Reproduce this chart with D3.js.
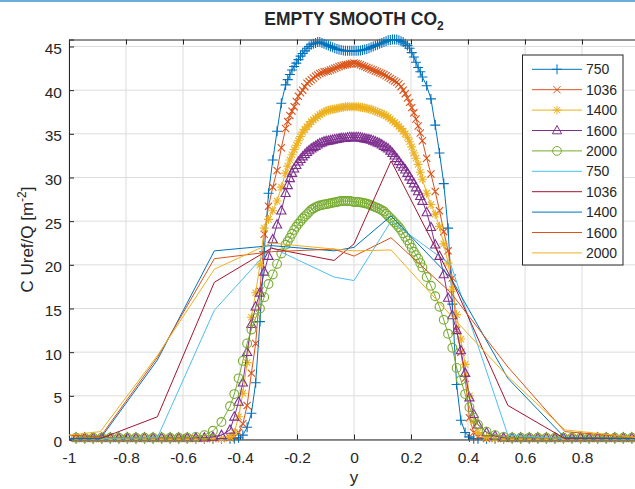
<!DOCTYPE html>
<html>
<head>
<meta charset="utf-8">
<script src="https://cdn.jsdelivr.net/npm/d3@7"></script>
<style>
  body { margin: 0; background: #fff; }
  text { font-family: "Liberation Sans", Arial, Helvetica, sans-serif; fill: #262626; }
</style>
</head>
<body>
<div id="chart"></div>
<script>
// y positions of the fine (marker) profiles: coarse at the walls, dense in the core
const xFine = [
  -0.975, -0.945, -0.915, -0.885, -0.855, -0.825, -0.795, -0.765, -0.735, -0.705,
  -0.675, -0.645, -0.615, -0.585, -0.555, -0.525, -0.495, -0.465, -0.435,
  -0.42, -0.405, -0.39, -0.375, -0.36, -0.345, -0.33, -0.315, -0.3, -0.285, -0.27, -0.255,
  -0.24, -0.2325, -0.225, -0.2175, -0.21, -0.2025, -0.195, -0.1875, -0.18, -0.1725,
  -0.165, -0.1575, -0.15, -0.1425, -0.135, -0.1275, -0.12, -0.1125, -0.105, -0.0975,
  -0.09, -0.0825, -0.075, -0.0675, -0.06, -0.0525, -0.045, -0.0375, -0.03, -0.0225,
  -0.015, -0.0075,
  0,
  0.0075, 0.015, 0.0225, 0.03, 0.0375, 0.045, 0.0525, 0.06, 0.0675, 0.075,
  0.0825, 0.09, 0.0975, 0.105, 0.1125, 0.12, 0.1275, 0.135, 0.1425, 0.15,
  0.1575, 0.165, 0.1725, 0.18, 0.1875, 0.195, 0.2025, 0.21, 0.2175, 0.225,
  0.2325, 0.24,
  0.255, 0.27, 0.285, 0.3, 0.315, 0.33, 0.345, 0.36, 0.375, 0.39, 0.405, 0.42,
  0.435, 0.465, 0.495, 0.525, 0.555, 0.585, 0.615, 0.645, 0.675, 0.705,
  0.735, 0.765, 0.795, 0.825, 0.855, 0.885, 0.915, 0.945, 0.975
];

const fine750 = [
  0.1, 0.1, 0.1, 0.1, 0.1, 0.1, 0.1, 0.1, 0.1, 0.1, 0.1, 0.1, 0.1, 0.1, 0.1, 0.1, 0.1, 0.1, 0.1,
  0.1, 0.2, 0.5, 1.4, 3.0, 6.5, 13.5, 21.5, 28.2, 32.0, 35.3, 38.5,
  40.6, 41.2, 41.8, 42.3, 42.7, 43.1, 43.5, 43.9, 44.2, 44.5, 44.8, 45.0, 45.2, 45.3, 45.4, 45.5,
  45.5, 45.4, 45.3, 45.2, 45.1, 45.0, 44.9, 44.8, 44.7, 44.65, 44.6, 44.55, 44.5, 44.5, 44.5, 44.5,
  44.5,
  44.5, 44.5, 44.55, 44.6, 44.65, 44.7, 44.8, 44.9, 45.0, 45.1, 45.2, 45.3, 45.4, 45.5, 45.6, 45.7,
  45.75, 45.8, 45.8, 45.8, 45.7, 45.6, 45.5, 45.3, 45.1, 44.8, 44.3, 43.8, 43.2, 42.6, 42.1, 41.5,
  40.5, 39.0, 36.0, 32.8, 29.3, 24.2, 15.5, 6.3, 2.2, 0.8, 0.3, 0.1,
  0.1, 0.1, 0.1, 0.1, 0.1, 0.1, 0.1, 0.1, 0.1, 0.1, 0.1, 0.1, 0.1, 0.1, 0.1, 0.1, 0.1, 0.1, 0.1
];
const fine1036 = [
  0.1, 0.1, 0.1, 0.1, 0.1, 0.1, 0.1, 0.1, 0.1, 0.1, 0.1, 0.1, 0.1, 0.1, 0.1, 0.1, 0.1, 0.1, 0.2,
  0.3, 0.8, 1.8, 3.9, 7.6, 11.0, 17.0, 23.5, 26.7, 28.9, 30.8, 33.4,
  35.6, 36.4, 37.1, 37.6, 38.1, 38.7, 39.3, 39.7, 40.0, 40.4, 40.8, 41.0, 41.2, 41.4, 41.6, 41.75,
  41.9, 42.0, 42.1, 42.15, 42.2, 42.3, 42.4, 42.5, 42.6, 42.7, 42.8, 42.85, 42.9, 42.95, 43.0, 43.05,
  43.1,
  43.05, 43.0, 42.9, 42.8, 42.7, 42.6, 42.5, 42.4, 42.3, 42.2, 42.1, 42.0, 41.9, 41.8, 41.65, 41.5,
  41.35, 41.2, 41.05, 40.9, 40.7, 40.4, 40.0, 39.6, 39.1, 38.6, 38.0, 37.4, 36.7, 35.9, 35.1, 34.2,
  32.2, 30.4, 28.4, 26.2, 23.8, 21.6, 18.5, 12.5, 10.0, 7.0, 2.5, 0.8,
  0.3, 0.1, 0.1, 0.1, 0.1, 0.1, 0.1, 0.1, 0.1, 0.1, 0.1, 0.1, 0.1, 0.1, 0.1, 0.1, 0.1, 0.1, 0.1
];
const fine1400 = [
  0.1, 0.1, 0.1, 0.1, 0.1, 0.1, 0.1, 0.1, 0.1, 0.1, 0.1, 0.1, 0.1, 0.1, 0.1, 0.1, 0.1, 0.1, 0.3,
  0.8, 2.6, 5.3, 8.8, 14.0, 16.8, 20.0, 24.2, 25.2, 26.2, 27.3, 28.9,
  30.5, 31.3, 32.0, 32.6, 33.2, 33.7, 34.2, 34.7, 35.2, 35.5, 35.8, 36.1, 36.4, 36.6, 36.8, 37.0,
  37.2, 37.35, 37.5, 37.6, 37.7, 37.75, 37.8, 37.85, 37.9, 37.95, 38.0, 38.05, 38.1, 38.1, 38.1, 38.1,
  38.1,
  38.1, 38.1, 38.05, 38.0, 37.95, 37.9, 37.85, 37.8, 37.7, 37.6, 37.5, 37.4, 37.3, 37.2, 37.05, 36.9,
  36.7, 36.5, 36.3, 36.1, 35.85, 35.6, 35.3, 35.0, 34.6, 34.1, 33.5, 32.8, 32.2, 31.5, 30.6, 29.8,
  28.2, 26.9, 25.8, 24.4, 22.4, 20.2, 17.2, 14.3, 11.5, 8.6, 5.0, 2.0,
  0.8, 0.3, 0.1, 0.1, 0.1, 0.1, 0.1, 0.1, 0.1, 0.1, 0.1, 0.1, 0.1, 0.1, 0.1, 0.1, 0.1, 0.1, 0.1
];
const fine1600 = [
  0.2, 0.2, 0.2, 0.2, 0.2, 0.2, 0.2, 0.2, 0.2, 0.2, 0.2, 0.2, 0.2, 0.2, 0.2, 0.2, 0.3, 0.5, 1.1,
  2.6, 4.3, 6.5, 10.0, 13.2, 15.2, 16.8, 19.2, 21.0, 22.9, 24.6, 26.2,
  28.2, 29.1, 29.9, 30.5, 31.0, 31.4, 31.8, 32.1, 32.4, 32.65, 32.9, 33.1, 33.3, 33.45, 33.6, 33.75,
  33.9, 34.0, 34.1, 34.15, 34.2, 34.25, 34.3, 34.35, 34.4, 34.45, 34.5, 34.5, 34.5, 34.55, 34.6, 34.6,
  34.6,
  34.6, 34.6, 34.55, 34.5, 34.45, 34.4, 34.35, 34.3, 34.2, 34.1, 34.0, 33.9, 33.75, 33.6, 33.45, 33.3,
  33.05, 32.8, 32.5, 32.2, 31.85, 31.5, 31.2, 30.9, 30.5, 30.1, 29.7, 29.3, 28.85, 28.4, 27.85, 27.3,
  26.0, 24.3, 22.3, 21.0, 18.9, 16.2, 14.2, 12.5, 10.2, 7.6, 4.8, 2.9,
  1.7, 0.8, 0.4, 0.2, 0.2, 0.2, 0.2, 0.2, 0.2, 0.2, 0.2, 0.2, 0.2, 0.2, 0.2, 0.2, 0.2, 0.2, 0.2
];
const fine2000 = [
  0.2, 0.2, 0.2, 0.2, 0.2, 0.2, 0.2, 0.2, 0.2, 0.2, 0.2, 0.2, 0.2, 0.2, 0.3, 0.5, 1.0, 2.0, 3.8,
  5.2, 7.0, 9.0, 11.0, 12.6, 13.9, 15.0, 16.3, 17.8, 18.9, 20.1, 21.3,
  22.3, 22.7, 23.1, 23.55, 24.0, 24.35, 24.7, 25.0, 25.3, 25.55, 25.8, 26.05, 26.3, 26.45, 26.6, 26.7,
  26.8, 26.85, 26.9, 26.95, 27.0, 27.05, 27.1, 27.15, 27.2, 27.25, 27.3, 27.3, 27.3, 27.3, 27.3, 27.25,
  27.2,
  27.2, 27.2, 27.15, 27.1, 27.05, 27.0, 26.9, 26.8, 26.7, 26.6, 26.5, 26.4, 26.25, 26.1, 25.85, 25.6,
  25.35, 25.1, 24.85, 24.6, 24.3, 24.0, 23.6, 23.2, 22.8, 22.4, 21.95, 21.5, 21.1, 20.7, 20.2, 19.7,
  18.6, 17.6, 16.4, 15.2, 13.7, 12.1, 10.5, 8.2, 6.8, 5.2, 3.7, 2.5,
  1.7, 0.9, 0.5, 0.3, 0.2, 0.2, 0.2, 0.2, 0.2, 0.2, 0.2, 0.2, 0.2, 0.2, 0.2, 0.2, 0.2, 0.2, 0.2
];

// coarse profiles (plain lines)
const xCoarse = [-1, -0.89, -0.69, -0.49, -0.29, -0.07, 0, 0.13, 0.34, 0.54, 0.74, 1];
const coarse750 = [0.1, 0.1, 0.2, 14.8, 22.0, 18.6, 18.2, 25.0, 20.0, 0.5, 0.1, 0.1];
const coarse1036 = [0.1, 0.1, 2.6, 18.0, 21.9, 20.5, 22.4, 31.9, 18.5, 3.9, 0.1, 0.1];
const coarse1400 = [0.1, 0.1, 9.1, 21.6, 22.2, 21.6, 22.0, 25.6, 18.5, 7.0, 0.2, 0.1];
const coarse1600 = [0.5, 0.3, 9.4, 20.7, 21.5, 21.8, 21.0, 23.1, 16.8, 8.3, 0.9, 0.2];
const coarse2000 = [0.5, 0.9, 9.6, 19.5, 22.5, 21.8, 21.6, 21.7, 14.2, 7.2, 1.1, 0.2];

const xTicks = [-1, -0.8, -0.6, -0.4, -0.2, 0, 0.2, 0.4, 0.6, 0.8, 1];
const yTicks = [0, 5, 10, 15, 20, 25, 30, 35, 40, 45];

const series = [
  { name: "750", xs: xFine, ys: fine750, color: "#0072BD", marker: "plus" },
  { name: "1036", xs: xFine, ys: fine1036, color: "#D95319", marker: "cross" },
  { name: "1400", xs: xFine, ys: fine1400, color: "#EDB120", marker: "star" },
  { name: "1600", xs: xFine, ys: fine1600, color: "#7E2F8E", marker: "triangle" },
  { name: "2000", xs: xFine, ys: fine2000, color: "#77AC30", marker: "circle" },
  { name: "750", xs: xCoarse, ys: coarse750, color: "#4DBEEE", marker: null },
  { name: "1036", xs: xCoarse, ys: coarse1036, color: "#A2142F", marker: null },
  { name: "1400", xs: xCoarse, ys: coarse1400, color: "#0072BD", marker: null },
  { name: "1600", xs: xCoarse, ys: coarse1600, color: "#D95319", marker: null },
  { name: "2000", xs: xCoarse, ys: coarse2000, color: "#EDB120", marker: null },
];

const width = 635, height = 489;
const box = { left: 69, right: 639, top: 39.5, bottom: 439.5 };

const x = d3.scaleLinear().domain([-1, 1]).range([box.left, box.right]);
const y = d3.scaleLinear().domain([0, 45.8]).range([box.bottom, box.top]);

const markerPath = (m) => {
  switch (m) {
    case "plus": return "M-5,0H5M0,-5V5";
    case "cross": return "M-3.6,-3.6L3.6,3.6M-3.6,3.6L3.6,-3.6";
    case "star": return "M-4.5,0H4.5M0,-4.5V4.5M-3.2,-3.2L3.2,3.2M-3.2,3.2L3.2,-3.2";
    case "triangle": return "M0,-5L4.6,3.3H-4.6Z";
    case "circle": return "M4.4,0A4.4,4.4 0 1,1 -4.4,0A4.4,4.4 0 1,1 4.4,0Z";
  }
  return "";
};

const svg = d3.select("#chart").append("svg")
  .attr("width", width)
  .attr("height", height);

// strip at the top edge of the screenshot
svg.append("rect").attr("x", 0).attr("y", 0).attr("width", width).attr("height", 2)
  .attr("fill", "#6badd6");

// grid
svg.append("g").selectAll("line").data(xTicks).enter().append("line")
  .attr("x1", (d) => x(d)).attr("x2", (d) => x(d))
  .attr("y1", box.top).attr("y2", box.bottom)
  .attr("stroke", "#dcdcdc").attr("stroke-width", 1);
svg.append("g").selectAll("line").data(yTicks).enter().append("line")
  .attr("x1", box.left).attr("x2", box.right)
  .attr("y1", (d) => y(d)).attr("y2", (d) => y(d))
  .attr("stroke", "#dcdcdc").attr("stroke-width", 1);

// axes (ticks point inward like matlab); the label of 1 falls outside the window
const xAxis = svg.append("g")
  .attr("transform", `translate(0,${box.bottom})`)
  .call(d3.axisBottom(x).tickValues(xTicks)
    .tickFormat((d) => (d === 1 ? "" : String(d))).tickSize(-5).tickPadding(12));
const xTop = svg.append("g")
  .attr("transform", `translate(0,${box.top})`)
  .call(d3.axisTop(x).tickValues(xTicks).tickFormat("").tickSize(-5));
const yAxis = svg.append("g")
  .attr("transform", `translate(${box.left},0)`)
  .call(d3.axisLeft(y).tickValues(yTicks).tickFormat((d) => String(d)).tickSize(-5).tickPadding(7));
[xAxis, xTop, yAxis].forEach((g) => {
  g.select(".domain").attr("stroke", "#262626").attr("stroke-width", 1);
  g.selectAll(".tick line").attr("stroke", "#262626");
  g.selectAll("text").style("font-size", "15.5px")
    .style("font-family", '"Liberation Sans", Arial, sans-serif').attr("fill", "#262626");
});
yAxis.selectAll("text").attr("dy", "0.45em");

// data
const line = d3.line().x((d) => x(d[0])).y((d) => y(d[1]));
const plot = svg.append("g");
series.forEach((s) => {
  const pts = s.xs.map((v, i) => [v, s.ys[i]]);
  plot.append("path")
    .attr("d", line(pts))
    .attr("fill", "none")
    .attr("stroke", s.color)
    .attr("stroke-width", 1);
  if (s.marker) {
    plot.append("g").selectAll("path").data(pts).enter().append("path")
      .attr("d", markerPath(s.marker))
      .attr("transform", (d) => `translate(${x(d[0])},${y(d[1])})`)
      .attr("fill", "none")
      .attr("stroke", s.color)
      .attr("stroke-width", 1.1);
  }
});

// title and labels
const title = svg.append("text")
  .attr("x", (box.left + box.right) / 2).attr("y", 25)
  .attr("text-anchor", "middle")
  .style("font-size", "17.5px").style("font-weight", "bold")
  .attr("fill", "#000");
title.append("tspan").text("EMPTY SMOOTH CO");
title.append("tspan").attr("dy", 5).style("font-size", "12px").text("2");

svg.append("text")
  .attr("x", (box.left + box.right) / 2).attr("y", 483)
  .attr("text-anchor", "middle")
  .style("font-size", "17px")
  .text("y");

const ylab = svg.append("text")
  .attr("transform", `translate(33,${(box.top + box.bottom) / 2}) rotate(-90)`)
  .attr("text-anchor", "middle")
  .style("font-size", "17px");
ylab.append("tspan").text("C Uref/Q [m");
ylab.append("tspan").attr("dy", -7).style("font-size", "12px").text("-2");
ylab.append("tspan").attr("dy", 7).text("]");

// legend
const leg = { left: 522.5, top: 55, w: 100.5, h: 210, row0: 69.3, step: 20.4 };
svg.append("rect")
  .attr("x", leg.left).attr("y", leg.top).attr("width", leg.w).attr("height", leg.h)
  .attr("fill", "#fff").attr("stroke", "#262626").attr("stroke-width", 1);
const items = svg.append("g").selectAll("g").data(series).enter().append("g")
  .attr("transform", (d, i) => `translate(0,${leg.row0 + i * leg.step})`);
items.append("line")
  .attr("x1", 532).attr("x2", 582)
  .attr("stroke", (d) => d.color).attr("stroke-width", 1);
items.filter((d) => d.marker).append("path")
  .attr("d", (d) => markerPath(d.marker))
  .attr("transform", "translate(557,0)")
  .attr("fill", "none").attr("stroke", (d) => d.color).attr("stroke-width", 1);
items.append("text")
  .attr("x", 586).attr("dy", "0.36em")
  .style("font-size", "14px")
  .text((d) => d.name);
</script>
</body>
</html>
